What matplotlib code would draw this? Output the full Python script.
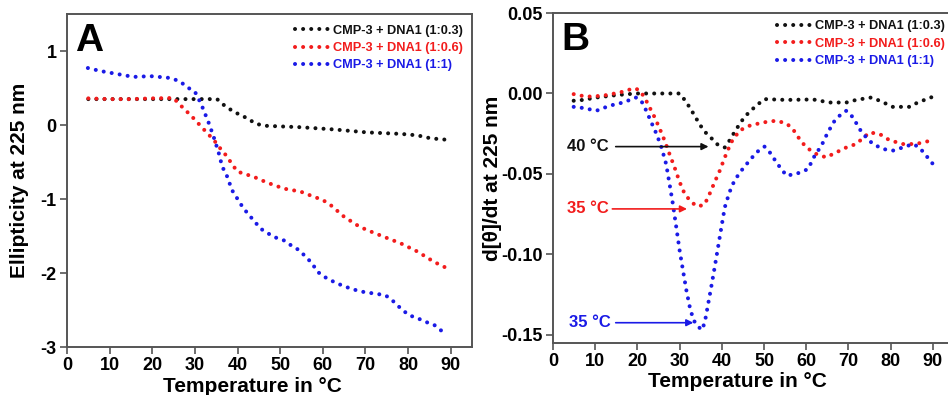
import matplotlib
matplotlib.use("Agg")
import matplotlib.pyplot as plt

plt.rcParams['font.family'] = ['Liberation Sans', 'DejaVu Sans']
plt.rcParams['font.weight'] = 'bold'
plt.rcParams['axes.unicode_minus'] = False

labels = ["CMP-3 + DNA1 (1:0.3)", "CMP-3 + DNA1 (1:0.6)", "CMP-3 + DNA1 (1:1)"]
colors = ["#111111", "#f21c1c", "#1a1ae6"]

# Panel A: ellipticity at 225 nm
a_black_x = [5, 10, 15, 20, 25, 30, 35.2, 37, 39.1, 42.3, 44.2, 46.2, 54.8, 62.6, 70.4, 78.3, 82.2, 85.3, 89.2]
a_black_y = [0.35, 0.35, 0.35, 0.35, 0.35, 0.35, 0.35, 0.26, 0.18, 0.09, 0.02, -0.01, -0.03, -0.06, -0.10, -0.12, -0.14, -0.18, -0.20]

a_red_x = [5, 10, 15, 20, 25, 26.2, 27.8, 29.7, 31.3, 32.9, 34.4, 36, 37.6, 38.7, 40, 43.8, 47, 50.9, 54.8,
           57.9, 59.9, 61.8, 65, 68.5, 70.4, 74.3, 78.3, 82.2, 86.1, 90]
a_red_y = [0.36, 0.35, 0.35, 0.36, 0.365, 0.29, 0.20, 0.09, -0.01, -0.11, -0.20, -0.32, -0.43, -0.53, -0.63, -0.70,
           -0.78, -0.86, -0.90, -0.97, -1.01, -1.08, -1.24, -1.37, -1.42, -1.51, -1.60, -1.71, -1.85, -1.96]

a_blue_x = [4.9, 7.8, 11.7, 15.6, 19.6, 23.5, 24.6, 26.6, 28.2, 30, 30.9, 31.7, 32.5, 33.3, 34.4, 35.6, 36.4,
            37.6, 38.7, 39.9, 41.1, 42.3, 43.8, 45.4, 47, 48.9, 50.9, 52.4, 54.4, 56, 57.5, 58.7, 60.3, 62.6,
            64.2, 66.5, 68.9, 71.2, 74.7, 76.7, 78.3, 80.2, 82.2, 84.1, 86.1, 87.6, 89.2]
a_blue_y = [0.77, 0.73, 0.69, 0.65, 0.66, 0.64, 0.63, 0.585, 0.51, 0.45, 0.35, 0.25, 0.135, 0.02, -0.16, -0.38,
            -0.56, -0.70, -0.88, -0.99, -1.10, -1.19, -1.29, -1.40, -1.46, -1.52, -1.56, -1.62, -1.69, -1.78,
            -1.87, -1.98, -2.05, -2.12, -2.16, -2.21, -2.25, -2.27, -2.30, -2.39, -2.48, -2.57, -2.61, -2.66,
            -2.70, -2.77, -2.84]

# Panel B: derivative d[theta]/dt at 225 nm
b_black_x = [4.9, 7.1, 10.3, 15, 19.7, 30, 31.2, 32.4, 33.6, 34.7, 35.9, 37.5, 39.1, 40.7, 41.8, 43, 44.2, 45.4,
             47, 48.6, 50.1, 55.3, 61.6, 65.5, 69.5, 71.8, 75.4, 77.4, 80.5, 84.5, 86.4, 90]
b_black_y = [-0.0045, -0.004, -0.0025, -0.001, 0.0, 0.0, -0.004, -0.0087, -0.014, -0.019, -0.0236, -0.0277,
             -0.032, -0.0335, -0.0293, -0.024, -0.019, -0.0145, -0.0103, -0.0066, -0.0035, -0.004, -0.0037,
             -0.0056, -0.0056, -0.004, -0.0025, -0.0045, -0.0083, -0.0083, -0.0056, -0.002]

b_red_x = [4.9, 7.9, 11.8, 15.8, 19.3, 20.5, 21.7, 22.9, 24.1, 25.3, 26.4, 27.6, 28.8, 30, 31.2, 32.8, 34.3,
           35.9, 37.1, 38.3, 39.5, 40.7, 42.2, 44.2, 46.6, 49.7, 52.9, 55.3, 56.8, 58.4, 60, 62.4, 64.7, 67.1,
           69.5, 71.8, 75, 77.4, 79.7, 82.9, 85.9, 90]
b_red_y = [-0.0004, -0.002, -0.0014, 0.0006, 0.0033, 0.002, -0.0025, -0.0087, -0.0149, -0.022, -0.029, -0.0376,
           -0.0459, -0.055, -0.0624, -0.0676, -0.0702, -0.069, -0.0624, -0.055, -0.048, -0.0397, -0.0304,
           -0.023, -0.020, -0.018, -0.0169, -0.0186, -0.022, -0.0283, -0.0335, -0.0376, -0.0397, -0.0366,
           -0.0335, -0.0314, -0.0242, -0.0252, -0.029, -0.0314, -0.0314, -0.029]

b_blue_x = [4.9, 7.1, 10.3, 13.4, 16.6, 19.7, 20.9, 22.1, 23.3, 24.5, 25.7, 26.8, 27.6, 28.4, 29.2, 30, 30.8,
            31.6, 32.4, 33.3, 34.3, 35.1, 35.9, 36.7, 37.5, 38.3, 39.1, 39.9, 40.7, 41.8, 43, 44.6, 46.2, 48.2,
            50.1, 51.7, 52.9, 55.3, 57.6, 60.4, 62, 63.6, 65.1, 66.7, 67.9, 69.5, 71.1, 72.6, 74.2, 75.8, 78.2,
            80.5, 82.9, 85.3, 86.8, 88.4, 90]
b_blue_y = [-0.0083, -0.009, -0.0107, -0.0076, -0.0056, -0.0025, -0.0045, -0.0107, -0.018, -0.025, -0.0335,
            -0.0438, -0.056, -0.0686, -0.083, -0.0975, -0.11, -0.1223, -0.1326, -0.141, -0.144, -0.147, -0.143,
            -0.1316, -0.120, -0.108, -0.0955, -0.083, -0.0707, -0.0614, -0.054, -0.048, -0.0428, -0.0366,
            -0.033, -0.0376, -0.0428, -0.051, -0.050, -0.047, -0.0386, -0.0324, -0.0242, -0.017, -0.0138,
            -0.0107, -0.0149, -0.022, -0.0273, -0.0314, -0.0345, -0.0355, -0.0335, -0.0314, -0.0335, -0.0386,
            -0.0438]

# annotations for panel B
ann_text = ["40 °C", "35 °C", "35 °C"]
ann_y = [-0.033, -0.0717, -0.1424]
ann_tx = [3.2, 3.3, 3.9]
ann_x0 = [14.2, 13.4, 14.2]
ann_x1 = [37.5, 32.4, 33.9]

W, H = 948, 395
fig = plt.figure(figsize=(W / 100, H / 100), dpi=100)
axA = fig.add_axes([67 / W, 1 - 347 / H, 405 / W, 333 / H])
axB = fig.add_axes([553 / W, 1 - 343 / H, 401 / W, 330 / H])

dot_style = dict(linestyle=(0, (0.01, 2.0)), linewidth=2.9, dash_capstyle='round')

for ax in (axA, axB):
    for s in ax.spines.values():
        s.set_color('#555555')
        s.set_linewidth(1.4)
    ax.tick_params(axis='both', direction='out', length=5, width=1.2, color='#555555',
                   labelsize=13, pad=2.5, top=False, right=False)
    ax.set_xlim(0, 95)
    ax.set_xticks(range(0, 91, 10))

seriesA = [(a_black_x, a_black_y), (a_red_x, a_red_y), (a_blue_x, a_blue_y)]
seriesB = [(b_black_x, b_black_y), (b_red_x, b_red_y), (b_blue_x, b_blue_y)]
for (x, y), c, l in zip(seriesA, colors, labels):
    axA.plot(x, y, color=c, label=l, **dot_style)
for (x, y), c, l in zip(seriesB, colors, labels):
    axB.plot(x, y, color=c, label=l, **dot_style)

axA.set_ylim(-3, 1.5)
axA.set_yticks([-3, -2, -1, 0, 1])
axB.set_ylim(-0.155, 0.05)
axB.set_yticks([-0.15, -0.10, -0.05, 0.00, 0.05])
axB.set_yticklabels(["-0.15", "-0.10", "-0.05", "0.00", "0.05"])
for ax in (axA, axB):
    for lab in ax.get_xticklabels() + ax.get_yticklabels():
        lab.set_fontweight('bold')

axA.set_xlabel("Temperature in °C", fontsize=15, fontweight='bold')
axB.set_xlabel("Temperature in °C", fontsize=15, fontweight='bold')
axA.xaxis.set_label_coords(0.457, -0.09)
axB.xaxis.set_label_coords(0.459, -0.088)
axA.set_ylabel("Ellipticity at 225 nm", fontsize=15, fontweight='bold', labelpad=8)
axB.set_ylabel("d[θ]/dt at 225 nm", fontsize=15, fontweight='bold', labelpad=-1)

axA.text(0.02, 0.89, "A", transform=axA.transAxes, fontsize=28, fontweight='bold')
axB.text(0.02, 0.888, "B", transform=axB.transAxes, fontsize=28, fontweight='bold')

for ax, ypos in ((axA, 0.995), (axB, 1.005)):
    leg = ax.legend(loc='upper right', bbox_to_anchor=(1.0, ypos), frameon=False, fontsize=9.2,
                    handlelength=2.7, handletextpad=0.25, labelspacing=0.42, borderaxespad=0.3)
    for t, c in zip(leg.get_texts(), colors):
        t.set_color(c)
        t.set_fontweight('bold')

for txt, y, tx, x0, x1, ci in zip(ann_text, ann_y, ann_tx, ann_x0, ann_x1, [0, 1, 2]):
    axB.text(tx, y, txt, color=colors[ci], fontsize=12, fontweight='bold', va='center', ha='left')
    axB.annotate("", xy=(x1, y), xytext=(x0, y),
                 arrowprops=dict(arrowstyle='-|>', color=colors[ci], lw=1.2, mutation_scale=10))

fig.savefig("out.png", dpi=100)
